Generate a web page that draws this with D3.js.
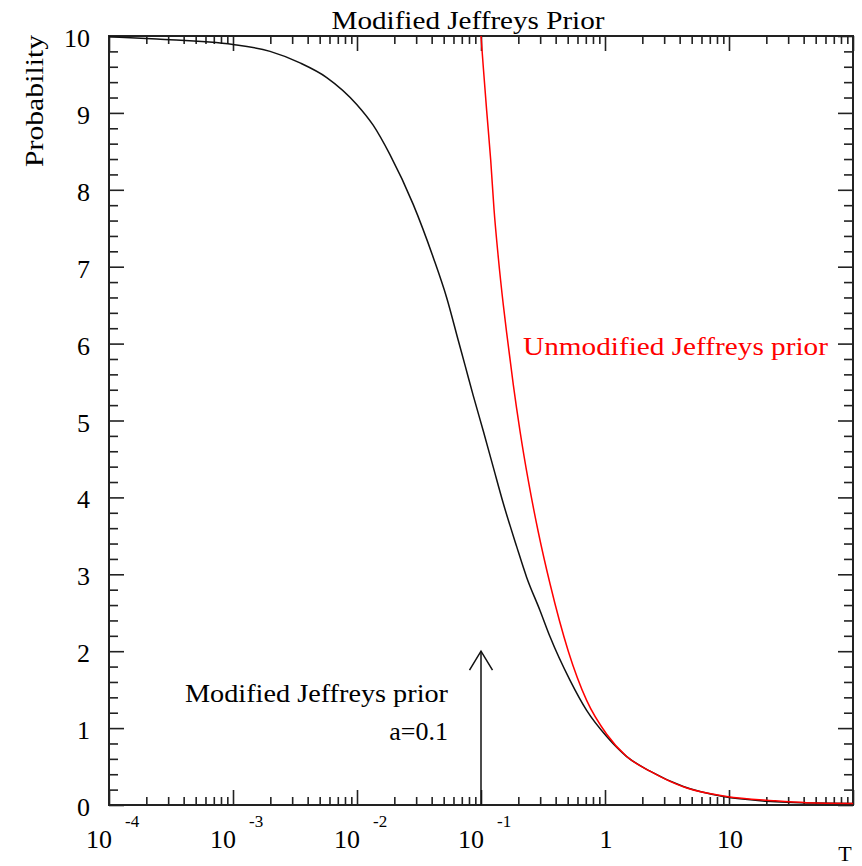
<!DOCTYPE html>
<html>
<head>
<meta charset="utf-8">
<script src="https://cdn.jsdelivr.net/npm/d3@7"></script>
<style>
  body { margin: 0; background: #fff; }
  svg text { font-family: "Liberation Serif", "Times New Roman", Times, serif; fill: #000; }
</style>
</head>
<body>
<svg id="chart" width="862" height="866"></svg>
<script>
// Curva modificada (a=0.1)
const modT = [1e-4, 2.43e-4, 1e-3, 1.99e-3, 3.47e-3, 5.7e-3, 9.95e-3, 0.0135, 0.0184, 0.0284,
  0.0412, 0.0528, 0.0656, 0.0743, 0.0867, 0.1045, 0.1257, 0.1514, 0.194, 0.2336, 0.299,
  0.3598, 0.5226, 0.7112, 1.032, 1.496, 2.307, 4.28, 9.0, 20, 50, 100];
const modP = [9.99, 9.96, 9.89, 9.80, 9.65, 9.46, 9.11, 8.84, 8.46, 7.81,
  7.12, 6.60, 6.04, 5.72, 5.32, 4.86, 4.39, 3.92, 3.36, 2.96, 2.53,
  2.19, 1.62, 1.23, 0.89, 0.63, 0.44, 0.24, 0.11, 0.05, 0.025, 0.02];

// Curva sin modificar
const unmodT = [0.1, 0.1043, 0.1111, 0.1197, 0.1273, 0.1379, 0.1514, 0.1631, 0.182, 0.2065,
  0.2406, 0.2897, 0.3598, 0.5058, 0.7112, 1.032, 1.496, 2.307, 4.56, 9.57, 22.8, 42.4, 100];
const unmodP = [10, 9.60, 9.03, 8.39, 7.75, 7.12, 6.50, 6.07, 5.47, 4.86,
  4.22, 3.55, 2.88, 2.0, 1.36, 0.92, 0.63, 0.44, 0.22, 0.11, 0.056, 0.03, 0.02];

// Etiquetas de ejes
const xExpTicks = [1e-4, 1e-3, 1e-2, 1e-1];
const xExpLabels = ["-4", "-3", "-2", "-1"];
const xPlainTicks = [1, 10];
const xPlainLabels = ["1", "10"];
const yMajor = [0, 1, 2, 3, 4, 5, 6, 7, 8, 9, 10];

const arrowT = 0.1;
const arrowTop = 2;

const svg = d3.select("#chart");
const mLeft = 109, mRight = 853, mTop = 36, mBottom = 805;

const x = d3.scaleLog().domain([1e-4, 100]).range([mLeft, mRight]);
const y = d3.scaleLinear().domain([0, 10]).range([mBottom, mTop]);

// Ticks menores / mayores en x
const xAll = x.ticks();
const xMajor = xAll.filter(t => Math.abs(Math.log10(t) - Math.round(Math.log10(t))) < 1e-9);
const xMinor = xAll.filter(t => !xMajor.includes(t));
const yMinor = d3.range(0, 10.01, 0.2).filter(v => Math.abs(v - Math.round(v)) > 1e-6);

function drawAxis(axis, tf) {
  const g = svg.append("g").attr("transform", tf).call(axis);
  g.select(".domain").remove();
  g.selectAll("text").remove();
  g.selectAll("line").attr("stroke", "#222").attr("stroke-width", 1.6);
}

drawAxis(d3.axisBottom(x).tickValues(xMinor).tickSize(-8), `translate(0,${mBottom})`);
drawAxis(d3.axisBottom(x).tickValues(xMajor).tickSize(-15), `translate(0,${mBottom})`);
drawAxis(d3.axisTop(x).tickValues(xMinor).tickSize(-8), `translate(0,${mTop})`);
drawAxis(d3.axisTop(x).tickValues(xMajor).tickSize(-15), `translate(0,${mTop})`);
drawAxis(d3.axisLeft(y).tickValues(yMinor).tickSize(-9), `translate(${mLeft},0)`);
drawAxis(d3.axisLeft(y).tickValues(yMajor).tickSize(-15), `translate(${mLeft},0)`);
drawAxis(d3.axisRight(y).tickValues(yMinor).tickSize(-9), `translate(${mRight},0)`);
drawAxis(d3.axisRight(y).tickValues(yMajor).tickSize(-15), `translate(${mRight},0)`);

svg.append("rect")
  .attr("x", mLeft).attr("y", mTop)
  .attr("width", mRight - mLeft).attr("height", mBottom - mTop)
  .attr("fill", "none").attr("stroke", "#222").attr("stroke-width", 2);

// Etiquetas eje y
svg.append("g").selectAll("text").data(yMajor).join("text")
  .attr("x", 90).attr("y", d => y(d) + 11)
  .attr("text-anchor", "end").attr("font-size", 26)
  .text(d => d);

// Etiquetas eje x con exponente
xExpTicks.forEach((t, i) => {
  svg.append("text").attr("x", x(t) - 10).attr("y", 848)
    .attr("text-anchor", "middle").attr("font-size", 26).text("10");
  svg.append("text").attr("x", x(t) + 16).attr("y", 827)
    .attr("font-size", 17).text(xExpLabels[i]);
});
xPlainTicks.forEach((t, i) => {
  svg.append("text").attr("x", x(t) + 1).attr("y", 848)
    .attr("text-anchor", "middle").attr("font-size", 26).text(xPlainLabels[i]);
});

svg.append("text").attr("x", 845).attr("y", 861)
  .attr("text-anchor", "middle").attr("font-size", 22).text("T");

svg.append("text").attr("x", 468).attr("y", 29)
  .attr("text-anchor", "middle").attr("font-size", 26)
  .attr("textLength", 273).attr("lengthAdjust", "spacingAndGlyphs")
  .text("Modified Jeffreys Prior");

svg.append("text")
  .attr("transform", "translate(43,101) rotate(-90)")
  .attr("text-anchor", "middle").attr("font-size", 26)
  .attr("textLength", 132).attr("lengthAdjust", "spacingAndGlyphs")
  .text("Probability");

// Curvas
const line = d3.line()
  .x(d => x(d[0]))
  .y(d => y(d[1]))
  .curve(d3.curveMonotoneX);

svg.append("path")
  .datum(d3.zip(modT, modP))
  .attr("d", line)
  .attr("fill", "none").attr("stroke", "#111").attr("stroke-width", 1.5);

svg.append("path")
  .datum(d3.zip(unmodT, unmodP))
  .attr("d", line)
  .attr("fill", "none").attr("stroke", "#ff0000").attr("stroke-width", 1.5);

// Flecha
const ax = x(arrowT), ay = y(arrowTop);
svg.append("line")
  .attr("x1", ax).attr("x2", ax).attr("y1", y(0)).attr("y2", ay)
  .attr("stroke", "#111").attr("stroke-width", 1.5);
svg.append("path")
  .attr("d", `M${ax - 11.5},${ay + 19}L${ax},${ay}L${ax + 11.5},${ay + 19}`)
  .attr("fill", "none").attr("stroke", "#111").attr("stroke-width", 1.5);

// Anotaciones
svg.append("text").attr("x", 448).attr("y", 702)
  .attr("text-anchor", "end").attr("font-size", 26)
  .attr("textLength", 263).attr("lengthAdjust", "spacingAndGlyphs")
  .text("Modified Jeffreys prior");
svg.append("text").attr("x", 448).attr("y", 740)
  .attr("text-anchor", "end").attr("font-size", 26)
  .text("a=0.1");

svg.append("text").attr("x", 523).attr("y", 355)
  .attr("font-size", 26).style("fill", "#ff0000")
  .attr("textLength", 305).attr("lengthAdjust", "spacingAndGlyphs")
  .text("Unmodified Jeffreys prior");
</script>
</body>
</html>
